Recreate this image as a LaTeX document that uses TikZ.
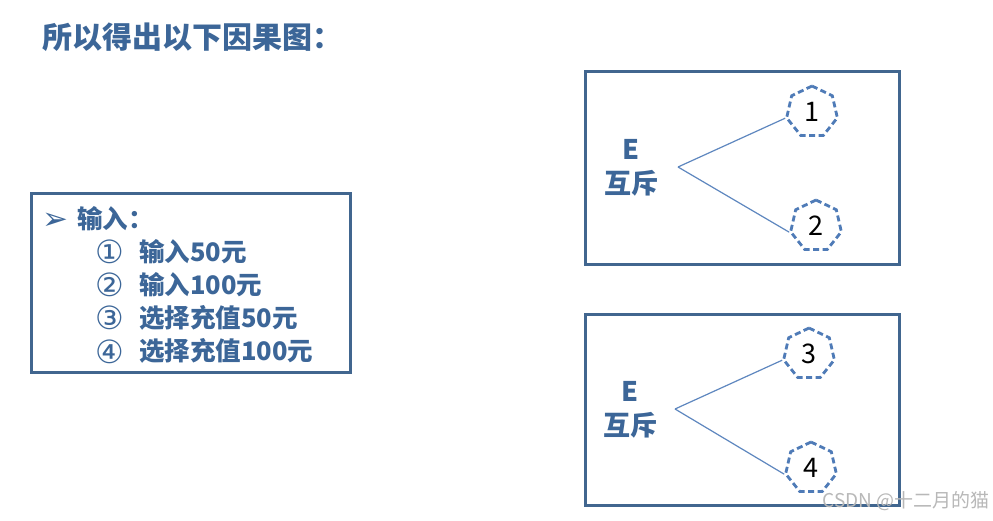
\documentclass[tikz,border=0pt]{standalone}
\usepackage{fontspec}
\setmainfont{Noto Sans CJK SC}
\newfontfamily\cjk{Noto Sans CJK SC}
\newfontfamily\djv{DejaVu Sans}
\usetikzlibrary{shapes.geometric}
\definecolor{txtblue}{HTML}{3C6698}
\definecolor{boxblue}{HTML}{41668F}
\definecolor{lineblue}{HTML}{5E87BF}
\definecolor{hepblue}{HTML}{4F7BB7}
\tikzset{
  frame/.style={draw=boxblue, line width=3pt, rectangle, inner sep=0pt},
  hept/.style={regular polygon, regular polygon sides=7, draw=hepblue, dash pattern=on 6pt off 3.5pt, line width=2.8pt, minimum size=52pt, inner sep=0pt, font=\cjk\fontsize{27}{27}\selectfont, text=black},
  link/.style={draw=lineblue, line width=1.2pt},
  lbl/.style={text=txtblue, font=\cjk\bfseries\fontsize{25.5}{25.5}\selectfont, anchor=west, inner sep=0pt, text height=19pt, text depth=3pt},
  circ/.style={text=txtblue, font=\djv\fontsize{32}{32}\selectfont, anchor=west, inner sep=0pt, text height=22pt, text depth=2pt},
  elbl/.style={text=txtblue, font=\cjk\bfseries\fontsize{27}{27}\selectfont, inner sep=0pt},
}
\begin{document}
\begin{tikzpicture}[x=1pt,y=-1pt]
\useasboundingbox (0,0) rectangle (993,521);
\fill[white] (0,0) rectangle (993,521);
% title
\node[text=txtblue, font=\cjk\bfseries\fontsize{30}{30}\selectfont, anchor=west, inner sep=0pt] (title) at (42,37) {所以得出以下因果图：};
% left box
\node[frame, minimum width=319pt, minimum height=178pt] (inbox) at (190.5,283) {};
\node[text=txtblue, font=\djv\fontsize{31}{31}\selectfont, anchor=west, inner sep=0pt, text height=21pt, text depth=2pt] (bullet) at (42,220) {➢};
\node[lbl] (inhead) at (77,220.5) {输入：};
\node[circ] (c1) at (95,254) {①};
\node[lbl] (t1) at (139,253.5) {输入50元};
\node[circ] (c2) at (95,287) {②};
\node[lbl] (t2) at (139,286.5) {输入100元};
\node[circ] (c3) at (95,320) {③};
\node[lbl] (t3) at (139,319.5) {选择充值50元};
\node[circ] (c4) at (95,353) {④};
\node[lbl] (t4) at (139,352.5) {选择充值100元};
% top right box
\node[frame, minimum width=314pt, minimum height=193pt] (boxA) at (742,168.5) {};
\node[elbl] (eA) at (631,149) {E};
\node[elbl] (mA) at (631,183) {互斥};
\coordinate (apA) at (678,167);
\node[hept] (h1) at (812,112) {1};
\node[hept] (h2) at (816,226) {2};
\draw[link] (apA) -- (h1.193);
\draw[link] (apA) -- (h2.193);
% bottom right box
\node[frame, minimum width=314pt, minimum height=191pt] (boxB) at (742,409.5) {};
\node[elbl] (eB) at (630,391) {E};
\node[elbl] (mB) at (630,425) {互斥};
\coordinate (apB) at (675,409);
\node[hept] (h3) at (809,354) {3};
\node[hept] (h4) at (811,468) {4};
\draw[link] (apB) -- (h3.193);
\draw[link] (apB) -- (h4.193);
% watermark
\node[text=black!28, font=\cjk\fontsize{19}{19}\selectfont, anchor=east, inner sep=0pt] (wm) at (990,501) {CSDN @十二月的猫};
\end{tikzpicture}
\end{document}
